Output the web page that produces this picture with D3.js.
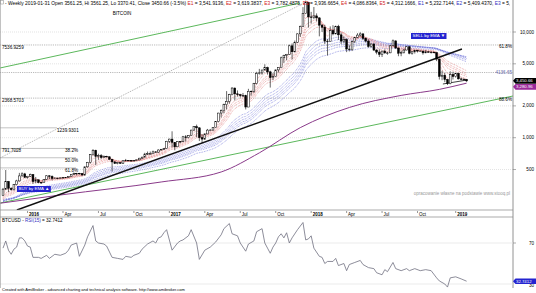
<!DOCTYPE html>
<html><head><meta charset="utf-8">
<script src="https://cdn.jsdelivr.net/npm/d3@7"></script>
<style>body{margin:0;background:#fff}svg{display:block}text{font-family:"Liberation Sans",Arial,sans-serif}</style>
</head><body><svg id="c" width="536" height="293"></svg>
<script>
// ---- data (weekly BTCUSD) ----
const firstWeek = "2015-10-26";
const opens = [285,326,385,332,322,360,390,435,455,422,
432,448,385,400,377,376,404,436,430,412,
415,412,417,420,422,430,450,456,460,458,
444,530,585,690,760,665,675,650,665,660,
625,590,570,580,572,605,610,608,602,612,
617,640,655,700,705,705,735,730,765,778,
790,925,970,905,820,920,915,1020,1000,1050,
1180,1270,1240,1000,970,1085,1180,1180,1245,1420,
1710,1800,2050,2200,2550,2950,2600,2550,2500,2500,
1950,2750,2750,3250,4050,4100,4370,4600,4200,3700,
3780,4380,4600,5700,6000,6150,7400,6500,8000,9600,
11300,15000,19100,13900,13800,14200,13600,11600,11100,8200,
8100,10300,9600,11300,9400,8200,8500,6900,6800,8100,
8900,9350,9600,8700,8200,7300,7700,6750,6450,6150,
6600,6350,6350,7400,8250,7050,6300,6400,6750,7250,
6300,6500,6700,6600,6600,6350,6500,6450,6420,6380,
5550,3800,3900,3550,3250,3950,3800,4050,3600,3550,
3561.25];
const highs = [335,495,390,340,365,400,465,470,465,435,
458,450,425,400,378,406,442,442,440,422,
418,420,425,424,432,452,468,465,465,460,
533,590,700,780,770,705,700,680,675,665,
630,600,585,585,612,630,612,610,615,622,
645,660,720,740,740,755,745,775,780,800,
935,980,1150,910,930,925,1040,1060,1060,1190,
1280,1330,1255,1080,1100,1210,1210,1250,1430,1720,
1850,2100,2760,2600,3000,2980,2800,2600,2650,2550,
2900,2800,3300,4200,4480,4380,4950,4700,4300,4100,
4400,4620,5850,6100,6200,7600,7800,8300,9700,11500,
17200,19800,19200,15500,17250,15000,13800,11900,11700,8600,
11300,11600,11500,11700,9900,9100,8700,7500,8300,8950,
9750,9950,9700,8900,8500,7780,7800,6850,6850,6650,
6850,6500,7550,8500,8270,7150,6650,6900,7400,7400,
6600,6800,6800,6700,6650,6750,6550,6550,6550,6420,
5600,4300,4100,3600,4250,4200,4050,4100,3700,3650,
3561.25];
const lows = [283,320,305,315,316,355,385,430,415,410,
425,365,370,370,365,375,400,405,395,406,
405,410,412,418,420,428,445,440,448,435,
437,520,570,680,550,620,630,645,650,620,
480,565,560,565,565,600,600,595,600,605,
612,630,650,685,700,700,725,720,755,765,
785,890,810,760,815,885,910,920,985,1045,
1170,1010,930,890,950,1080,1155,1170,1240,1400,
1550,1700,1850,2100,2520,2250,2450,2400,2450,1850,
1950,2500,2650,3200,3950,3950,4330,3950,2980,3500,
3750,4150,4600,5100,5400,6100,5500,6400,7900,9000,
11200,15000,11000,12000,13200,12600,9100,10000,7700,6000,
8100,9300,9500,8400,7700,7800,6450,6550,6600,7850,
8750,9050,8400,7950,7100,7100,6600,6150,5800,5800,
6200,6100,6300,7400,6900,5900,5900,6250,6700,6150,
6100,6250,6400,6500,6100,6300,6400,6250,6350,5300,
3550,3500,3350,3150,3200,3550,3700,3550,3500,3500,
3370.41];
const closes = [326,385,332,322,360,390,435,455,422,432,
448,385,400,377,376,404,436,430,412,415,
412,417,420,422,430,450,456,460,458,444,
530,585,690,760,665,675,650,665,660,625,
590,570,580,572,605,610,608,602,612,617,
640,655,700,705,705,735,730,765,778,790,
925,970,905,820,920,915,1020,1000,1050,1180,
1270,1240,1000,970,1085,1180,1180,1245,1420,1710,
1800,2050,2200,2550,2950,2600,2550,2500,2500,1950,
2750,2750,3250,4050,4100,4370,4600,4200,3700,3780,
4380,4600,5700,6000,6150,7400,6500,8000,9600,11300,
15000,19100,13900,13800,14200,13600,11600,11100,8200,8100,
10300,9600,11300,9400,8200,8500,6900,6800,8100,8900,
9350,9600,8700,8200,7300,7700,6750,6450,6150,6600,
6350,6350,7400,8250,7050,6300,6400,6750,7250,6300,
6500,6700,6600,6600,6350,6500,6450,6420,6380,5550,
3800,3900,3550,3250,3950,3800,4050,3600,3561.25,3561.25,
3450.66];
// GMMA periods and starting values (read at left edge)
const shortPeriods = [3,5,8,10,12,15];
const longPeriods  = [30,35,40,45,50,60];
const shortSeeds = [280,272,264,258,254,250];
const longSeeds  = [243,244,246,249,252,258];
// 200-week average (purple), [weekIndex, price]
const sma200 = [[-1,240],[21,287],[58,381],[80,474],[94,719],[109,1245],[127,1932],[146,2512],[160,2865],[170,3281]];
// RSI(15), [weekIndex, value]
const rsi = [[0,65],[1,72],[2,63],[3,59],[4,64],[5,66],[6,75],[7,75],[8,72],[9,67],[10,66],[11,56],[13,56],[14,55],[16,58],[17,55],[19,59],[21,58],[23,60],[24,63],[25,68],[27,70],[28,57],[30,68],[31,76],[33,87],[34,72],[35,70],[37,69],[38,67],[40,56],[42,55],[44,54],[45,57],[47,56],[48,58],[50,60],[51,64],[53,69],[55,72],[56,70],[57,75],[58,76],[59,80],[60,83],[62,63],[64,70],[65,72],[66,73],[68,77],[69,83],[71,70],[72,54],[74,63],[76,66],[78,71],[80,78],[81,84],[83,89],[84,79],[86,77],[87,70],[89,62],[90,69],[92,72],[93,81],[95,84],[96,70],[97,65],[98,60],[99,66],[100,70],[101,76],[102,79],[103,75],[104,80],[105,70],[106,75],[108,83],[110,90],[111,73],[112,74],[113,77],[114,65],[116,57],[117,56],[118,50],[119,52],[121,52],[122,55],[123,48],[125,50],[126,43],[127,49],[129,51],[131,53],[132,49],[134,46],[136,45],[137,41],[139,39],[140,44],[141,42],[143,51],[144,45],[146,43],[148,45],[149,43],[151,45],[153,43],[155,44],[157,43],[159,36],[160,33],[162,30],[163,27],[164,36],[166,37],[168,35],[170,32.74]];
// trend lines, [weekIndex, price] pairs
const greenUpper = [[-1.1,4565],[108.9,18800]];
const greenLower = [[-1.1,241],[187,2480]];
const blackTrend = [[5.1,207],[168.3,6905]];
const dottedTrend = [[-1.1,643],[111.1,19240]];
const supportLine = [[161.3,3222],[170.2,3515]];
// fibonacci / level lines
const fullLevels = [7536.9259, 4136.65, 2368.5703];
const shortLevels = [1239.9301, 791.7028, 646, 518];
const fibPctLabels = ["38.2%","50.0%","61.8%"];
const fibPctPrices = [791.7028, 646, 518];
const yTicks = [10000,5000,2000,1000,500];
const quarterTicks = ["2016-01-03","2016-04-03","2016-07-03","2016-10-02","2017-01-01","2017-04-02","2017-07-02","2017-10-01","2017-12-31","2018-04-01","2018-07-01","2018-09-30","2019-01-06"];
const quarterLabels = ["2016","Apr","Jul","Oct","2017","Apr","Jul","Oct","2018","Apr","Jul","Oct","2019"];

// ---- drawing ----
const svg = d3.select("#c");
const R = 513, mainBottom = 210, axisBottom = 217;
const parse = d3.timeParse("%Y-%m-%d");
const t0 = parse(firstWeek);
const dateAt = i => new Date(t0.getTime() + (i*7+6)*864e5);
const x = d3.scaleTime().domain([dateAt(0), dateAt(170)]).range([3, 466.6]);
const xi = i => x(dateAt(i));
const y = d3.scaleLog().domain([1000,10000]).range([137.7,32]);
const yr = d3.scaleLinear().domain([30,70]).range([284,243]);

const defs = svg.append("defs");
defs.append("clipPath").attr("id","mc").append("rect").attr("x",0).attr("y",0).attr("width",R).attr("height",mainBottom);
defs.append("clipPath").attr("id","hc").append("rect").attr("x",0).attr("y",0).attr("width",R-3).attr("height",9);

const main = svg.append("g").attr("clip-path","url(#mc)");
// grid
main.selectAll(".g").data(yTicks).join("line").attr("x1",0).attr("x2",R)
  .attr("y1",d=>y(d)).attr("y2",d=>y(d)).attr("stroke","#d0d0d0").attr("stroke-width",0.6).attr("stroke-dasharray","1,1");
main.selectAll(".fl").data(fullLevels).join("line").attr("x1",0).attr("x2",R)
  .attr("y1",d=>y(d)).attr("y2",d=>y(d)).attr("stroke","#8a8a8a").attr("stroke-width",0.6).attr("stroke-dasharray","1.2,1");
main.selectAll(".sl").data(shortLevels).join("line").attr("x1",0).attr("x2",(d,i)=>i==0?57:76)
  .attr("y1",d=>y(d)).attr("y2",d=>y(d)).attr("stroke","#9a9a9a").attr("stroke-width",0.6);

// EMAs
function ema(period, seed){ const a=2/(period+1); let e=seed; return closes.map(c=> (e = e + a*(c-e))); }
const line = d3.line().x(d=>xi(d[0])).y(d=>y(d[1]));
longPeriods.forEach((p,k)=>{ const e=ema(p,longSeeds[k]);
  main.append("path").attr("d",line(e.map((v,i)=>[i,v]))).attr("fill","none").attr("stroke","#6f72d8").attr("stroke-width",0.7).attr("stroke-dasharray","0.8,0.9"); });
shortPeriods.forEach((p,k)=>{ const e=ema(p,shortSeeds[k]);
  main.append("path").attr("d",line(e.map((v,i)=>[i,v]))).attr("fill","none").attr("stroke","#e07a7a").attr("stroke-width",0.7).attr("stroke-dasharray","0.8,0.9"); });

// trend lines
main.append("path").attr("d",line(greenUpper)).attr("stroke","#5cb85c").attr("stroke-width",1).attr("fill","none");
main.append("path").attr("d",line(greenLower)).attr("stroke","#5cb85c").attr("stroke-width",1).attr("fill","none");
main.append("path").attr("d",line(dottedTrend)).attr("stroke","#777").attr("stroke-width",0.6).attr("stroke-dasharray","1,1").attr("fill","none");
main.append("path").attr("d",d3.line().curve(d3.curveMonotoneX).x(d=>xi(d[0])).y(d=>y(d[1]))(sma200)).attr("stroke","#8a3a8a").attr("stroke-width",1).attr("fill","none");
main.append("path").attr("d",line(blackTrend)).attr("stroke","#111").attr("stroke-width",1.5).attr("fill","none");
main.append("path").attr("d",line(supportLine)).attr("stroke","#111").attr("stroke-width",0.8).attr("fill","none");

// candles
const cg = main.append("g");
closes.forEach((c,i)=>{
  const cx = xi(i), o=opens[i], up = c>=o;
  cg.append("line").attr("x1",cx).attr("x2",cx).attr("y1",y(highs[i])).attr("y2",y(lows[i])).attr("stroke","#000").attr("stroke-width",0.6);
  const y1=y(Math.max(o,c)), y2=y(Math.min(o,c));
  cg.append("rect").attr("x",cx-0.9).attr("width",1.8).attr("y",y1).attr("height",Math.max(0.5,y2-y1))
    .attr("fill",up?"#fff":"#000").attr("stroke","#000").attr("stroke-width",0.5);
});

// level labels
const fs = 4.6;
svg.append("text").attr("x",2).attr("y",y(7536.9259)+4).attr("font-size",fs).text("7536.9259");
svg.append("text").attr("x",2).attr("y",y(2368.5703)+4).attr("font-size",fs).text("2368.5703");
svg.append("text").attr("x",57).attr("y",y(1239.9301)+4).attr("font-size",fs).text("1239.9301");
svg.append("text").attr("x",2).attr("y",y(791.7028)+4).attr("font-size",fs).text("791.7028");
fibPctLabels.forEach((t,i)=> svg.append("text").attr("x",65).attr("y",y(fibPctPrices[i])+4).attr("font-size",fs).text(t));
svg.append("text").attr("x",512).attr("y",y(7536.9259)+3).attr("font-size",fs).attr("text-anchor","end").text("61.8%");
svg.append("text").attr("x",512).attr("y",y(2368.5703)+3).attr("font-size",fs).attr("text-anchor","end").text("88.6%");
svg.append("text").attr("x",512).attr("y",y(4136.65)+1.5).attr("font-size",fs).attr("text-anchor","end").attr("fill","#6a6aa8").text("4136.65");

// signal boxes
function box(xp,yp,txt){ const g=svg.append("g");
  const t=g.append("text").attr("x",xp+1.5).attr("y",yp+4.3).attr("font-size",4.4).attr("fill","#fff").text(txt);
  const w=t.node().getComputedTextLength();
  g.insert("rect","text").attr("x",xp).attr("y",yp).attr("width",w+3).attr("height",6).attr("fill","#2424d0"); }
box(411,33,"SELL by EMA ▼");
box(17,186,"BUY by EMA ▲");

// title & header
svg.append("text").attr("x",122).attr("y",15).attr("font-size",fs).attr("text-anchor","middle").text("BITCOIN");
svg.append("rect").attr("x",0.5).attr("y",0.5).attr("width",3).attr("height",3.5).attr("fill","#fff").attr("stroke","#888").attr("stroke-width",0.5);
const hdr = svg.append("text").attr("clip-path","url(#hc)").attr("x",5).attr("y",4.5).attr("font-size",4.85);
const hparts = [["- Weekly 2019-01-31 Open 3561.25, Hi 3561.25, Lo 3370.41, Close 3450.66 (-3.5%) ","#000"],
 ["E1","#d02020"],[" = 3,541.9136, ","#000"],["E2","#d02020"],[" = 3,619.3837, ","#000"],["E3","#d02020"],[" = 3,782.4875, ","#000"],
 ["E3","#d02020"],[" = 3,936.6654, ","#000"],["E4","#d02020"],[" = 4,086.8364, ","#000"],["E5","#d02020"],[" = 4,312.1666, ","#000"],
 ["E1","#3030c0"],[" = 5,232.7144, ","#000"],["E2","#3030c0"],[" = 5,409.4370, ","#000"],["E3","#3030c0"],[" = 5,631.0266","#000"]];
hparts.forEach(p=> hdr.append("tspan").attr("fill",p[1]).text(p[0]));

// right axis
svg.append("line").attr("x1",R).attr("x2",R).attr("y1",0).attr("y2",288).attr("stroke","#777").attr("stroke-width",0.8);
svg.selectAll(".yt").data(yTicks).join("line").attr("x1",R).attr("x2",R+3).attr("y1",d=>y(d)).attr("y2",d=>y(d)).attr("stroke","#777").attr("stroke-width",0.6);
svg.selectAll(".yl").data(yTicks).join("text").attr("x",534).attr("y",d=>y(d)+1.6).attr("font-size",fs).attr("text-anchor","end").text(d3.format(","));

// price tags
function tag(yp,txt,col){ svg.append("path").attr("d",`M${R},${yp} l2.5,-2.8 h20.5 v5.6 h-20.5 z`).attr("fill",col);
  svg.append("text").attr("x",R+3).attr("y",yp+1.6).attr("font-size",4.3).attr("fill","#fff").text(txt); }
tag(y(3450.66),"3,450.66","#000");
tag(y(3450.66)+6,"3,280.96","#9a2a9a");

// x axis band
svg.append("line").attr("x1",0).attr("x2",R).attr("y1",mainBottom).attr("y2",mainBottom).attr("stroke","#888").attr("stroke-width",0.7);
svg.append("line").attr("x1",0).attr("x2",R).attr("y1",axisBottom).attr("y2",axisBottom).attr("stroke","#888").attr("stroke-width",0.7);
quarterTicks.forEach((d,i)=>{ const xx=x(parse(d));
  svg.append("line").attr("x1",xx).attr("x2",xx).attr("y1",mainBottom+1).attr("y2",mainBottom+3).attr("stroke","#333").attr("stroke-width",0.5);
  svg.append("text").attr("x",xx+1.5).attr("y",215.6).attr("font-size",4.5).attr("font-weight",/^\d/.test(quarterLabels[i])?"bold":"normal").text(quarterLabels[i]); });

// watermark
svg.append("text").attr("x",510).attr("y",195).attr("font-size",4.5).attr("text-anchor","end").attr("fill","#999").text("opracowanie własne na podstawie www.stooq.pl");

// RSI panel
svg.append("line").attr("x1",0).attr("x2",R).attr("y1",yr(70)).attr("y2",yr(70)).attr("stroke","#e2e2e2").attr("stroke-width",0.7);
svg.append("line").attr("x1",0).attr("x2",R).attr("y1",yr(30)).attr("y2",yr(30)).attr("stroke","#e2e2e2").attr("stroke-width",0.7);
svg.append("path").attr("d",d3.line().x(d=>xi(d[0])).y(d=>yr(d[1]))(rsi)).attr("fill","none").attr("stroke","#707080").attr("stroke-width",0.8);
const rl = svg.append("text").attr("x",2).attr("y",222).attr("font-size",fs);
rl.append("tspan").text("BTCUSD - "); rl.append("tspan").attr("fill","#3030c0").text("RSI(15)"); rl.append("tspan").text(" = 32.7412");
svg.append("line").attr("x1",R).attr("x2",R+3).attr("y1",yr(70)).attr("y2",yr(70)).attr("stroke","#777").attr("stroke-width",0.6);
svg.append("text").attr("x",534).attr("y",yr(70)+1.6).attr("font-size",fs).attr("text-anchor","end").text("70");
svg.append("text").attr("x",534).attr("y",yr(30)+3).attr("font-size",fs).attr("text-anchor","end").text("30");
svg.append("path").attr("d",`M${R},${yr(32.74)} l2.5,-2.8 h20.5 v5.6 h-20.5 z`).attr("fill","#2424d0");
svg.append("text").attr("x",R+3).attr("y",yr(32.74)+1.6).attr("font-size",4.3).attr("fill","#fff").text("32.7412");

svg.append("line").attr("x1",0.5).attr("x2",0.5).attr("y1",0).attr("y2",288).attr("stroke","#999").attr("stroke-width",0.6);
svg.append("text").attr("x",2).attr("y",291).attr("font-size",4).text("Created with AmiBroker - advanced charting and technical analysis software. http://www.amibroker.com");
</script></body></html>
